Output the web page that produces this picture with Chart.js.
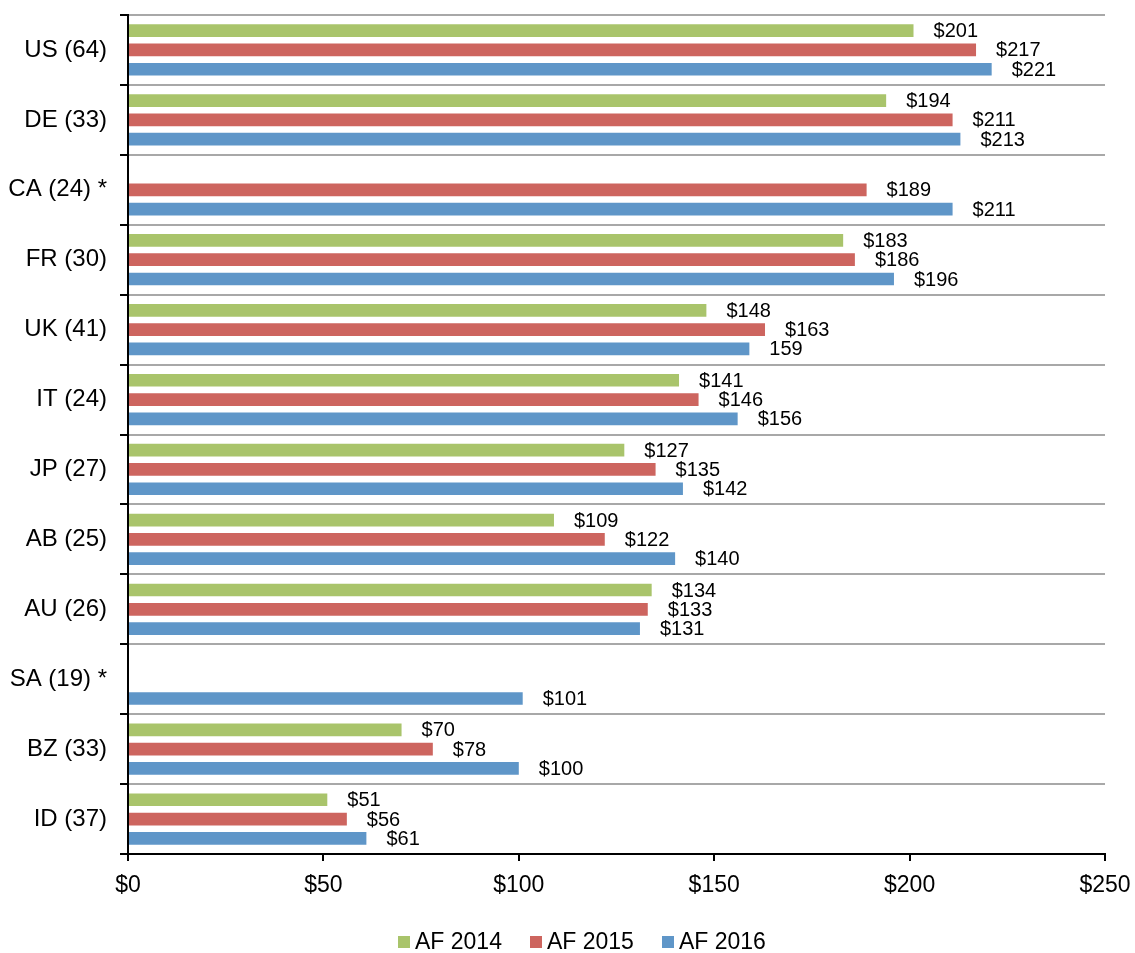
<!DOCTYPE html>
<html>
<head>
<meta charset="utf-8">
<script src="https://cdn.jsdelivr.net/npm/chart.js@4/dist/chart.umd.min.js"></script>
<style>
  html, body { margin: 0; padding: 0; background: #fff; }
  #wrap { position: relative; width: 1135px; height: 953px; }
  #chart { position: absolute; left: 0; top: 0; }
  #legend {
    position: absolute; left: 398px; top: 930px;
    display: flex; gap: 28px;
    font-family: "Liberation Sans", Arial, sans-serif; font-size: 23px; line-height: 23px; color: #000;
  }
  #legend .item { display: flex; align-items: center; white-space: nowrap; }
  #legend .sw { width: 12px; height: 12px; margin-right: 5px; }
</style>
</head>
<body>
<div id="wrap">
  <canvas id="chart" width="1135" height="953"></canvas>
  <div id="legend"></div>
</div>
<script>
// Markets (number of respondents); * = partial history
const categories = ['US (64)', 'DE (33)', 'CA (24) *', 'FR (30)', 'UK (41)', 'IT (24)',
                    'JP (27)', 'AB (25)', 'AU (26)', 'SA (19) *', 'BZ (33)', 'ID (37)'];

const seriesNames = ['AF 2014', 'AF 2015', 'AF 2016'];

const af2014 = [201, 194, null, 183, 148, 141, 127, 109, 134, null, 70, 51];
const af2015 = [217, 211, 189, 186, 163, 146, 135, 122, 133, null, 78, 56];
const af2016 = [221, 213, 211, 196, 159, 156, 142, 140, 131, 101, 100, 61];

const seriesColors = ['#A9C46B', '#CD655F', '#5F96C8'];

// x-axis ticks ($)
const xTicks = [0, 50, 100, 150, 200, 250];

// value labels printed without the currency sign: [series, category]
const plainLabels = [[2, 4]];

const FONT = '"Liberation Sans", Arial, sans-serif';

const seriesValues = [af2014, af2015, af2016];

const valueLabels = {
  id: 'valueLabels',
  afterDatasetsDraw(chart) {
    const ctx = chart.ctx;
    ctx.save();
    ctx.font = '20px ' + FONT;
    ctx.fillStyle = '#000';
    ctx.textAlign = 'left';
    ctx.textBaseline = 'middle';
    chart.data.datasets.forEach((ds, si) => {
      const meta = chart.getDatasetMeta(si);
      meta.data.forEach((bar, ci) => {
        const v = ds.data[ci];
        if (v === null || v === undefined) return;
        const plain = plainLabels.some(p => p[0] === si && p[1] === ci);
        const txt = (plain ? '' : '$') + v;
        ctx.fillText(txt, bar.x + 20, bar.y + 1);
      });
    });
    ctx.restore();
  }
};

new Chart(document.getElementById('chart'), {
  type: 'bar',
  data: {
    labels: categories,
    datasets: seriesValues.map((vals, i) => ({
      label: seriesNames[i],
      data: vals,
      backgroundColor: seriesColors[i],
      borderWidth: 0,
      categoryPercentage: 0.828,
      barPercentage: 0.66
    }))
  },
  options: {
    indexAxis: 'y',
    responsive: false,
    animation: false,
    layout: { padding: { top: 15, right: 30, bottom: 0, left: 0 } },
    plugins: {
      legend: { display: false },
      tooltip: { enabled: false }
    },
    scales: {
      x: {
        min: xTicks[0],
        max: xTicks[xTicks.length - 1],
        afterBuildTicks(scale) { scale.ticks = xTicks.map(v => ({ value: v })); },
        afterFit(scale) {
          scale.height = 99;
          scale.paddingLeft = 0;
          scale.paddingRight = 0;
        },
        ticks: {
          callback: v => '$' + v,
          color: '#000',
          font: { family: FONT, size: 23 },
          padding: 11,
          maxRotation: 0
        },
        grid: { drawOnChartArea: false, color: '#000', tickLength: 7, lineWidth: 2 },
        border: { color: '#000', width: 2 }
      },
      y: {
        afterFit(scale) {
          scale.width = 128;
          scale.paddingTop = 0;
          scale.paddingBottom = 0;
        },
        ticks: {
          color: '#000',
          font: { family: FONT, size: 24 },
          padding: 13
        },
        grid: { offset: true, color: '#A8A8A8', tickColor: '#000', tickLength: 8, lineWidth: 2 },
        border: { color: '#000', width: 2 }
      }
    }
  },
  plugins: [valueLabels]
});

// Legend below the plot
const legend = document.getElementById('legend');
seriesNames.forEach((name, i) => {
  const item = document.createElement('div');
  item.className = 'item';
  const sw = document.createElement('span');
  sw.className = 'sw';
  sw.style.background = seriesColors[i];
  const t = document.createElement('span');
  t.textContent = name;
  item.appendChild(sw);
  item.appendChild(t);
  legend.appendChild(item);
});
</script>
</body>
</html>
